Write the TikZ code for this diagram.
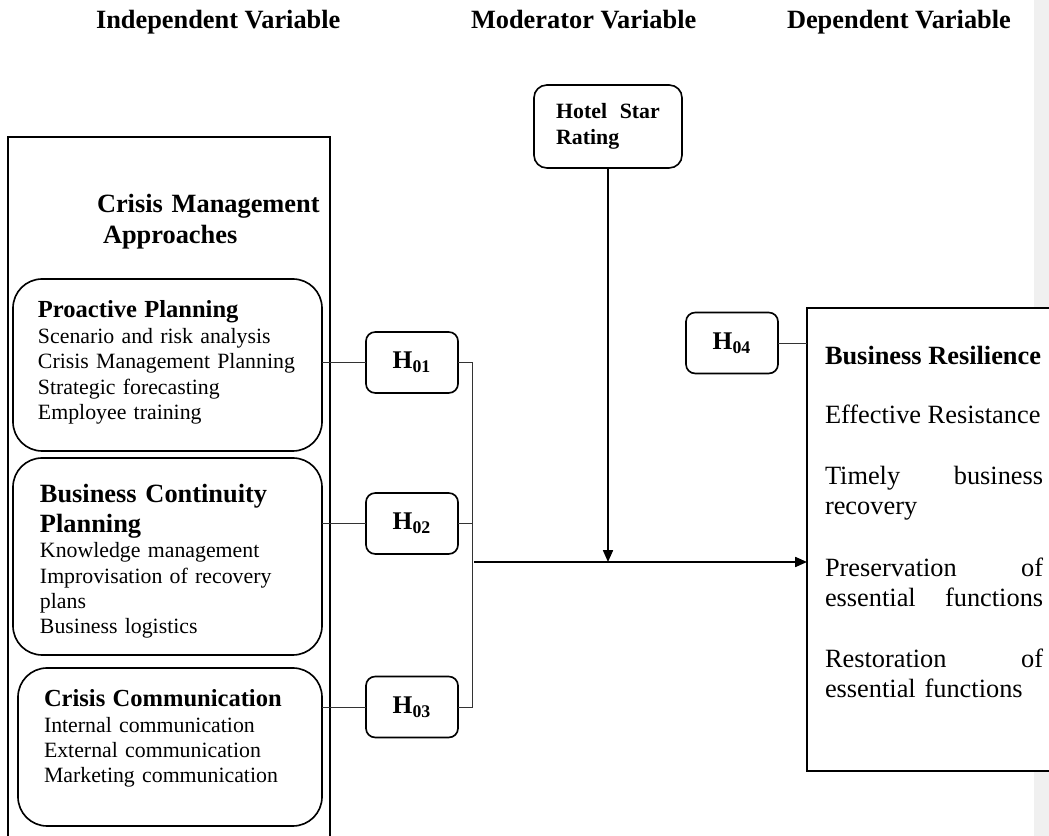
\documentclass[tikz,border=0pt]{standalone}
\usepackage{fontspec}
\setmainfont{Liberation Serif}
\usetikzlibrary{arrows.meta}
\begin{document}
\begin{tikzpicture}[x=0.55pt,y=-0.55pt,
  every node/.style={inner sep=0pt, outer sep=0pt},
  bigbox/.style={draw, line width=1pt},
  appbox/.style={draw, line width=0.9pt, rounded corners=16pt},
  hbox/.style={draw, line width=0.9pt, rounded corners=5pt, minimum width=50.6pt, minimum height=33.5pt, font=\fontsize{14}{16}\selectfont\bfseries},
  link/.style={line width=0.5pt, draw=black!80},
  arr/.style={line width=0.9pt, -{Triangle[length=6.5pt,width=5.5pt]}},
  head/.style={anchor=base west, font=\fontsize{14.5}{17}\selectfont\bfseries},
  body/.style={anchor=base west, align=left, text width=165pt},
]
\useasboundingbox (0,0) rectangle (1049,836);
\clip (0,0) rectangle (1049,836);
\fill[black!6] (1034,0) rectangle (1049,836);

% headings
\node[head] (tiv) at (96,29) {Independent Variable};
\node[head] (tmv) at (471,29) {Moderator Variable};
\node[head] (tdv) at (787,29) {Dependent Variable};

% independent variable container
\node[bigbox, minimum width=177.1pt, minimum height=419.65pt] (iv) at (169,518.5) {};
\node[body, font=\fontsize{14.5}{17}\selectfont\bfseries] (cma) at (97,213) {Crisis Management\\\hspace{3.3pt}Approaches};

% approach boxes
\node[appbox, minimum width=169.95pt, minimum height=94.6pt] (pp) at (167.5,365) {};
\node[appbox, minimum width=169.95pt, minimum height=108.35pt] (bcp) at (167.5,556.5) {};
\node[appbox, minimum width=167.2pt, minimum height=86.9pt] (cc) at (170,747) {};

\node[body, font=\fontsize{12}{14}\selectfont] (ppt) at (38,318)
  {{\fontsize{13.5}{14}\selectfont\bfseries Proactive Planning}\\Scenario and risk analysis\\Crisis Management Planning\\Strategic forecasting\\Employee training};
\node[body, font=\fontsize{14.5}{16}\selectfont\bfseries] (bcpt) at (40,503) {Business Continuity\\Planning};
\node[body, font=\fontsize{12}{13.8}\selectfont] (bcpb) at (40,558)
  {Knowledge management\\Improvisation of recovery\\plans\\Business logistics};
\node[body, font=\fontsize{12}{13.9}\selectfont] (cct) at (44,707)
  {{\fontsize{13.5}{13.9}\selectfont\bfseries Crisis Communication}\\Internal communication\\External communication\\Marketing communication};

% hypotheses
\node[hbox] (h1) at (412,362.5) {H\textsubscript{01}};
\node[hbox] (h2) at (412,523.5) {H\textsubscript{02}};
\node[hbox] (h3) at (412,707) {H\textsubscript{03}};
\node[hbox] (h4) at (732,343) {H\textsubscript{04}};

% moderator
\node[draw, line width=0.9pt, rounded corners=7pt, minimum width=81.4pt, minimum height=45.6pt,
      text width=57pt, align=left, font=\fontsize{12}{14.3}\selectfont\bfseries] (hs) at (608,126.5)
  {Hotel\hfill Star\\Rating};

% dependent variable box
\node[bigbox, fill=white, minimum width=144.65pt, minimum height=254.65pt] (dv) at (938.5,539.5) {};
\node[anchor=base west, font=\fontsize{14.5}{16.5}\selectfont\bfseries] (br) at (825,365) {Business Resilience};
\node[anchor=base west, font=\fontsize{14.5}{16.5}\selectfont] (br1) at (825,424) {Effective Resistance};
\node[body, text width=120pt, font=\fontsize{14.5}{16.5}\selectfont] (br2) at (825,485) {Timely\hfill business\\recovery};
\node[body, text width=120pt, font=\fontsize{14.5}{16.5}\selectfont] (br3) at (825,577) {Preservation\hfill of\\essential\hfill functions};
\node[body, text width=120pt, font=\fontsize{14.5}{16.5}\selectfont] (br4) at (825,668) {Restoration\hfill of\\essential functions};

% connectors
\coordinate (jx) at (472,0);
\coordinate (m) at (474,562);
\draw[link] (h1.west) -- (h1.west -| pp.east);
\draw[link] (h2.west) -- (h2.west -| bcp.east);
\draw[link] (h3.west) -- (h3.west -| cc.east);
\draw[link] (h1.east) -- (h1.east -| jx) -- (h3.east -| jx) -- (h3.east);
\draw[link] (h2.east) -- (h2.east -| jx);
\draw[link] (h4.east) -- (h4.east -| dv.west);
\draw[arr] (m) -- (m -| dv.west);
\draw[arr] (hs.south) -- (hs.south |- m);
\end{tikzpicture}
\end{document}
